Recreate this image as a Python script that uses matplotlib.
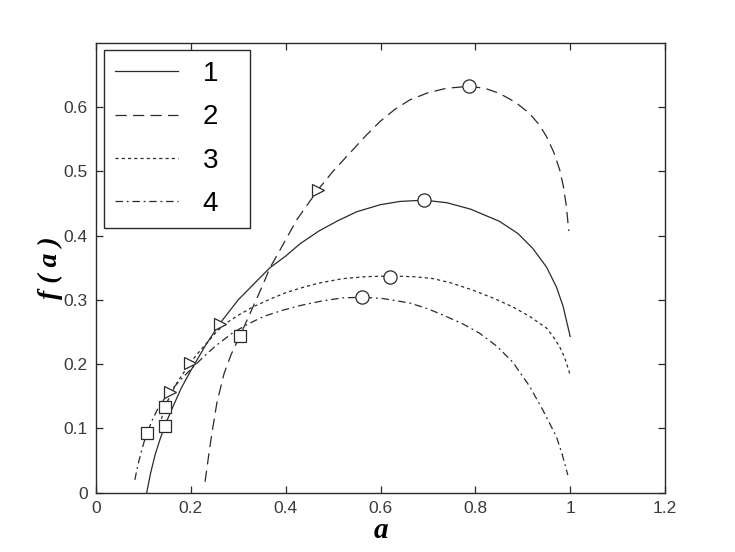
import matplotlib
matplotlib.use("Agg")
import matplotlib.pyplot as plt

# ---- data ----
a1 = [0.107, 0.115, 0.125, 0.135, 0.145, 0.16, 0.18, 0.2, 0.23, 0.261, 0.30, 0.34, 0.367, 0.40, 0.43, 0.47,
      0.51, 0.55, 0.6, 0.641, 0.692, 0.74, 0.79, 0.851, 0.89, 0.921, 0.95, 0.971, 0.985, 1.0]
f1 = [0.0, 0.03, 0.06, 0.083, 0.104, 0.13, 0.163, 0.19, 0.228, 0.263, 0.300, 0.33, 0.350, 0.368, 0.387, 0.407,
      0.423, 0.437, 0.448, 0.453, 0.455, 0.451, 0.441, 0.422, 0.403, 0.38, 0.351, 0.320, 0.29, 0.243]

a2 = [0.230, 0.238, 0.245, 0.255, 0.27, 0.285, 0.303, 0.328, 0.35, 0.367, 0.39, 0.423, 0.468, 0.5, 0.535, 0.57,
      0.6, 0.63, 0.662, 0.70, 0.739, 0.786, 0.82, 0.851, 0.885, 0.914, 0.935, 0.950, 0.965, 0.978, 0.986, 0.992, 0.997]
f2 = [0.017, 0.06, 0.095, 0.14, 0.185, 0.215, 0.243, 0.284, 0.32, 0.350, 0.38, 0.424, 0.471, 0.50, 0.528, 0.556,
      0.578, 0.596, 0.611, 0.622, 0.629, 0.632, 0.629, 0.621, 0.607, 0.590, 0.572, 0.554, 0.53, 0.502, 0.475, 0.445, 0.407]

a3 = [0.138, 0.145, 0.157, 0.17, 0.185, 0.198, 0.215, 0.235, 0.255, 0.275, 0.30, 0.331, 0.37, 0.40, 0.43, 0.47,
      0.521, 0.57, 0.619, 0.67, 0.711, 0.75, 0.795, 0.84, 0.879, 0.915, 0.95, 0.963, 0.977, 0.988, 1.0]
f3 = [0.115, 0.133, 0.152, 0.17, 0.187, 0.201, 0.217, 0.234, 0.251, 0.264, 0.276, 0.289, 0.302, 0.311, 0.318, 0.326,
      0.333, 0.336, 0.337, 0.336, 0.333, 0.326, 0.315, 0.302, 0.289, 0.274, 0.256, 0.244, 0.228, 0.211, 0.183]

a4 = [0.082, 0.086, 0.09, 0.095, 0.101, 0.108, 0.118, 0.13, 0.143, 0.156, 0.175, 0.2, 0.225, 0.25, 0.289, 0.32,
      0.353, 0.39, 0.43, 0.475, 0.52, 0.562, 0.605, 0.662, 0.70, 0.739, 0.775, 0.809, 0.845, 0.879, 0.914, 0.942,
      0.96, 0.971, 0.983, 0.995]
f4 = [0.02, 0.035, 0.048, 0.062, 0.078, 0.093, 0.112, 0.13, 0.145, 0.157, 0.173, 0.192, 0.21, 0.227, 0.249, 0.262,
      0.274, 0.283, 0.291, 0.298, 0.303, 0.304, 0.302, 0.295, 0.286, 0.274, 0.262, 0.248, 0.228, 0.203, 0.166, 0.129,
      0.103, 0.087, 0.06, 0.0275]

sq_a = [0.108, 0.145, 0.145, 0.303]
sq_f = [0.093, 0.104, 0.133, 0.243]
tri_a = [0.156, 0.198, 0.261, 0.468]
tri_f = [0.157, 0.201, 0.263, 0.471]
cir_a = [0.692, 0.786, 0.619, 0.562]
cir_f = [0.455, 0.632, 0.336, 0.304]

labels = ["1", "2", "3", "4"]
xticks = [0, 0.2, 0.4, 0.6, 0.8, 1.0, 1.2]
xtick_labels = ["0", "0.2", "0.4", "0.6", "0.8", "1", "1.2"]
yticks = [0, 0.1, 0.2, 0.3, 0.4, 0.5, 0.6]
ytick_labels = ["0", "0.1", "0.2", "0.3", "0.4", "0.5", "0.6"]

# ---- figure ----
fig = plt.figure(figsize=(7.35, 5.52), dpi=100)
ax = fig.add_axes([0.1306, 0.1074, 0.7742, 0.8154])

lc = "#2a2a2a"
lw = 0.9
ax.plot(a1, f1, color=lc, lw=lw, ls="-", label=labels[0])
ax.plot(a2, f2, color=lc, lw=lw, ls=(0, (9, 5)), label=labels[1])
ax.plot(a3, f3, color=lc, lw=lw, ls=(0, (2.5, 2.5)), label=labels[2])
ax.plot(a4, f4, color=lc, lw=lw, ls=(0, (6, 3, 1.5, 3)), label=labels[3])

mk = dict(ls="none", mfc="white", mec=lc, mew=0.9, zorder=5)
ax.plot(sq_a, sq_f, marker="s", ms=8, **mk)
ax.plot(tri_a, tri_f, marker=">", ms=9, **mk)
ax.plot(cir_a, cir_f, marker="o", ms=9.5, **mk)

ax.set_xlim(0, 1.2)
ax.set_ylim(0, 0.7)
ax.set_xticks(xticks)
ax.set_xticklabels(xtick_labels)
ax.set_yticks(yticks)
ax.set_yticklabels(ytick_labels)
ax.tick_params(direction="in", length=5, width=0.9, top=True, right=True,
               labelsize=12.5, labelcolor="#3a3a3a", color=lc, pad=6)
for lab in ax.get_xticklabels() + ax.get_yticklabels():
    lab.set_family("Liberation Sans")
for s in ax.spines.values():
    s.set_linewidth(1.0)
    s.set_color(lc)

ax.set_xlabel("a", family="Liberation Serif", fontsize=21, fontweight="bold",
              fontstyle="italic", labelpad=1)
ax.set_ylabel("f ( a )", family="Liberation Serif", fontsize=20, fontweight="bold",
              fontstyle="italic", labelpad=0)

leg = ax.legend(loc="upper left", bbox_to_anchor=(0.014, 0.605, 0.2566, 0.3785),
                mode="expand", borderaxespad=0,
                handlelength=2.25, handletextpad=0.9, labelspacing=0.62,
                borderpad=0.4, fancybox=False, framealpha=1, edgecolor=lc,
                prop={"family": "Liberation Sans", "size": 20})
leg.get_frame().set_linewidth(1.0)

fig.savefig("out.png", dpi=100, facecolor="white")
